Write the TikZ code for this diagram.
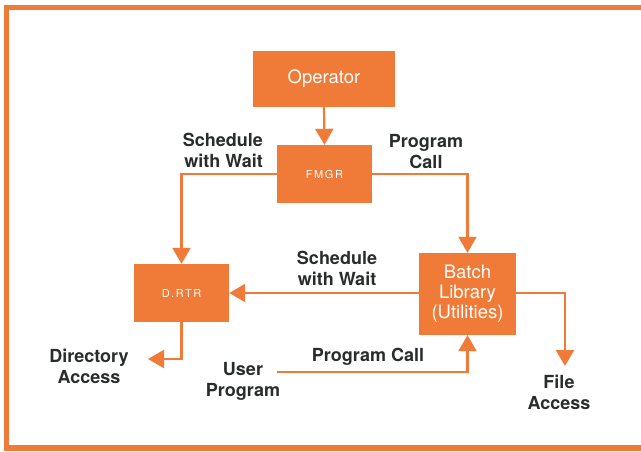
\documentclass[tikz,border=0pt]{standalone}
\usepackage{fontspec}
\setmainfont{TeX Gyre Heros}
\newfontfamily\spacedfont[LetterSpace=14]{TeX Gyre Heros}
\usepackage{xcolor}
\usepackage{tikz}
\usetikzlibrary{positioning, calc, arrows.meta}
\definecolor{hporange}{RGB}{240, 122, 56}
\definecolor{labeldark}{RGB}{40, 44, 42}
\tikzset{
    procbox/.style={
        draw=none, fill=hporange, text=white, align=center, inner sep=0pt,
        font=\fontsize{18.5}{20}\selectfont
    },
    smallbox/.style={
        procbox, font=\spacedfont\fontsize{11}{12}\selectfont
    },
    flow/.style={
        -{Triangle[width=18pt, length=16pt]}, hporange, line width=2.2pt
    },
    flowlabel/.style={
        text=labeldark, align=center, inner sep=0pt,
        font=\bfseries\fontsize{18}{21}\selectfont
    }
}

\begin{document}
\begin{tikzpicture}[x=1pt, y=-1pt]
        \useasboundingbox (0,0) rectangle (641,451);

        % ======================================
        % KHUNG
        % ======================================
        \draw[hporange, line width=5.5pt] (645,7.5) -- (6.5,7.5) -- (6.5,448) -- (645,448);

        % ======================================
        % CAC KHOI
        % ======================================
        \node[procbox, minimum width=142pt, minimum height=56pt] (operator) at (324,79) {Operator};
        \node[smallbox, minimum width=95pt, minimum height=58pt] (fmgr) at (324.5,174) {FMGR};
        \node[smallbox, minimum width=95pt, minimum height=58pt] (drtr) at (181.5,293) {D.RTR};
        \node[procbox, minimum width=97pt, minimum height=82pt] (batch) at (467.5,294) {Batch\\Library\\(Utilities)};

        % ======================================
        % NHAN
        % ======================================
        \node[flowlabel, align=right, anchor=east] (schedtop) at (263,150) {Schedule\\with Wait};
        \node[flowlabel] (calltop) at (426,152) {Program\\Call};
        \node[flowlabel] (schedmid) at (337,268) {Schedule\\with Wait};
        \node[flowlabel] (callbot) at (368,357) {Program Call};
        \node[flowlabel] (diracc) at (89,366) {Directory\\Access};
        \node[flowlabel] (userprog) at (243,381) {User\\Program};
        \node[flowlabel] (fileacc) at (559,392) {File\\Access};

        % diem dau/cuoi cua cac mui ten tu do
        \coordinate (dirend) at (148,359);
        \coordinate (fileend) at (565,366);
        \coordinate (userstart) at (277,372);

        % ======================================
        % MUI TEN
        % ======================================
        \draw[flow] (operator.south) -- (fmgr.north);
        \draw[flow] (fmgr.west) -| (drtr.north);
        \draw[flow] (fmgr.east) -| (batch.north);
        \draw[flow] (batch.west |- drtr.east) -- (drtr.east);
        \draw[flow] (drtr.south) |- (dirend);
        \draw[flow] (batch.east |- drtr.east) -| (fileend);
        \draw[flow] (userstart) -| (batch.south);

\end{tikzpicture}
\end{document}
